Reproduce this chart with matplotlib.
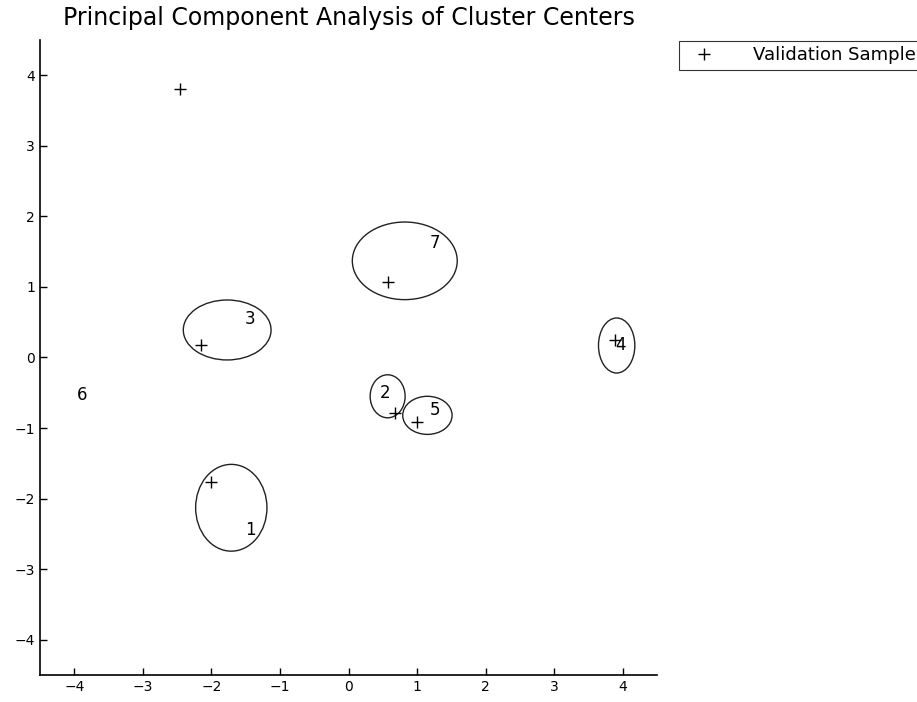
import matplotlib
matplotlib.use("Agg")
import matplotlib.pyplot as plt
from matplotlib.patches import Ellipse

# cluster centres (ellipses)
cluster_ids = ["1", "2", "3", "4", "5", "6", "7"]
label_x = [-1.43, 0.53, -1.43, 3.96, 1.26, -3.88, 1.26]
label_y = [-2.44, -0.50, 0.54, 0.18, -0.74, -0.53, 1.62]

ell_ids = ["1", "2", "3", "4", "5", "7"]
ell_x = [-1.71, 0.57, -1.77, 3.91, 1.15, 0.82]
ell_y = [-2.13, -0.55, 0.39, 0.17, -0.82, 1.37]
ell_w = [1.04, 0.51, 1.28, 0.53, 0.72, 1.53]
ell_h = [1.23, 0.61, 0.85, 0.78, 0.54, 1.10]

# validation samples
val_x = [-2.46, -2.15, 0.57, 0.68, 1.00, -2.00, 3.88]
val_y = [3.80, 0.18, 1.07, -0.78, -0.92, -1.77, 0.25]

plt.rcParams['font.family'] = ['DejaVu Sans']

fig = plt.figure(figsize=(9.17, 7.02), dpi=100)
ax = fig.add_axes([0.0436, 0.0385, 0.673, 0.9045])

for cx, cy, w, h in zip(ell_x, ell_y, ell_w, ell_h):
    ax.add_patch(Ellipse((cx, cy), w, h, fill=False, edgecolor='#222222', linewidth=1.0))

ax.plot(val_x, val_y, '+', color='k', markersize=8, markeredgewidth=1.0, label='Validation Sample')

for name, lx, ly in zip(cluster_ids, label_x, label_y):
    ax.text(lx, ly, name, fontsize=12, ha='center', va='center', color='k')

ax.set_xlim(-4.5, 4.5)
ax.set_ylim(-4.5, 4.5)
ax.set_xticks(range(-4, 5))
ax.set_yticks(range(-4, 5))
ax.set_xticklabels(['\u22124', '\u22123', '\u22122', '\u22121', '0', '1', '2', '3', '4'])
ax.set_yticklabels(['\u22124', '\u22123', '\u22122', '\u22121', '0', '1', '2', '3', '4'])
ax.tick_params(direction='in', length=5, labelsize=10, width=1)
ax.spines['top'].set_visible(False)
ax.spines['right'].set_visible(False)
ax.spines['left'].set_linewidth(1.2)
ax.spines['bottom'].set_linewidth(1.2)

ax.set_title('Principal Component Analysis of Cluster Centers', fontsize=17, pad=11)

leg = fig.legend(loc='upper left', bbox_to_anchor=(0.7405, 0.9416), frameon=True,
                 fancybox=False, fontsize=13, borderpad=0.3, handletextpad=1.6,
                 handlelength=2.2, borderaxespad=0)
leg.get_frame().set_edgecolor('k')
leg.get_frame().set_linewidth(0.8)

fig.savefig('out.png', dpi=100)
